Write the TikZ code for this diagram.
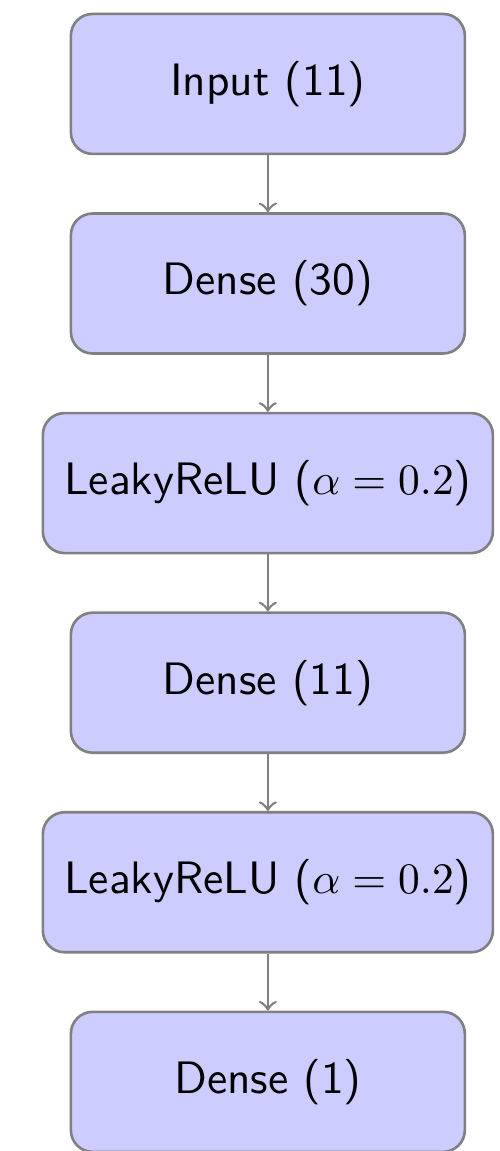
\documentclass[tikz,border=0pt]{standalone}
\usetikzlibrary{positioning}

\begin{document}
\begin{tikzpicture}[
		layer/.style={draw=gray, fill=blue!20, rounded corners=5pt, semithick,
			minimum width=90.6pt, minimum height=32.2pt, font=\fontsize{10.45}{12}\sffamily},
		wide/.style={layer, minimum width=103.5pt},
		link/.style={->, gray, semithick}
	]
		\useasboundingbox (0,0) rectangle (114.8pt,-264.7pt);
		% layers
		\node[layer] (input) at (61.6pt,-19.3pt) {Input (11)};
		\node[layer, below=13.1pt of input] (dense1) {Dense (30)};
		\node[wide, below=13.1pt of dense1] (leaky1) {LeakyReLU ($\alpha = 0.2$)};
		\node[layer, below=13.1pt of leaky1] (dense2) {Dense (11)};
		\node[wide, below=13.1pt of dense2] (leaky2) {LeakyReLU ($\alpha = 0.2$)};
		\node[layer, below=13.1pt of leaky2] (dense3) {Dense (1)};
		% connections
		\draw[link] (input) -- (dense1);
		\draw[link] (dense1) -- (leaky1);
		\draw[link] (leaky1) -- (dense2);
		\draw[link] (dense2) -- (leaky2);
		\draw[link] (leaky2) -- (dense3);
	\end{tikzpicture}
\end{document}
